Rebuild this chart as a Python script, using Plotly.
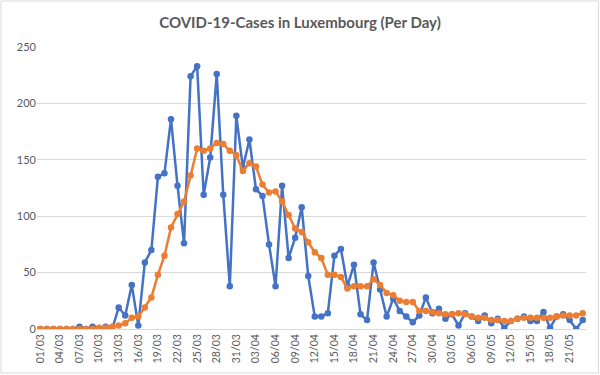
import plotly.graph_objects as go
import pandas as pd

dates = [d.strftime("%d/%m") for d in pd.date_range("2020-03-01", "2020-05-23")]

cases_per_day = [
    0, 0, 0, 0, 0, 0, 2, 0, 2, 0, 2, 0,
    19, 12, 39, 3, 59, 70, 135, 138, 186, 127, 76, 224,
    233, 119, 152, 226, 119, 38, 189, 143, 168, 124, 118, 75,
    38, 127, 63, 81, 108, 47, 11, 11, 14, 65, 71, 38,
    57, 13, 8, 59, 35, 11, 27, 16, 11, 6, 12, 28,
    14, 18, 9, 13, 3, 14, 11, 7, 12, 5, 9, 1,
    7, 9, 11, 7, 7, 15, 1, 11, 13, 8, 0, 8,
]

moving_avg = [
    0, 0, 0, 0, 0, 0, 0, 0, 0, 1, 1, 2,
    3, 5, 10, 11, 19, 28, 48, 65, 90, 102, 113, 136,
    160, 158, 160, 165, 164, 158, 154, 140, 147, 144, 128, 121,
    122, 113, 101, 89, 86, 77, 68, 63, 48, 48, 46, 36,
    38, 38, 38, 44, 39, 32, 30, 25, 24, 24, 16, 16,
    15, 14, 13, 13, 14, 13, 11, 10, 10, 8, 8, 7,
    7, 9, 10, 10, 10, 10, 10, 11, 12, 12, 12, 14,
]

tick_labels = dates[::3]
y_ticks = [0, 50, 100, 150, 200, 250]

fig = go.Figure()
fig.add_trace(go.Scatter(
    x=dates, y=cases_per_day, mode="lines+markers",
    line=dict(color="#4472C4", width=2.5),
    marker=dict(color="#4472C4", size=6.5),
    showlegend=False,
))
fig.add_trace(go.Scatter(
    x=dates, y=moving_avg, mode="lines+markers",
    line=dict(color="#ED7D31", width=2.5),
    marker=dict(color="#ED7D31", size=6.5),
    showlegend=False,
))

fig.update_layout(
    width=600, height=375,
    margin=dict(l=37, r=14, t=47, b=46),
    paper_bgcolor="white", plot_bgcolor="white",
    font=dict(family="Lato, Open Sans, sans-serif", color="#595959"),
    title=dict(
        text="<b>COVID-19-Cases in Luxembourg (Per Day)</b>",
        x=0.5, xanchor="center", y=0.94, yanchor="middle",
        font=dict(size=15, color="#595959", family="Lato, Open Sans, sans-serif"),
    ),
    xaxis=dict(
        type="category", range=[-0.5, len(dates) - 0.5],
        tickmode="array", tickvals=tick_labels, ticktext=tick_labels,
        tickangle=-90, tickfont=dict(size=10.5, color="#595959"),
        showgrid=False, showline=True, linecolor="#D9D9D9", linewidth=1,
        ticks="", zeroline=False,
    ),
    yaxis=dict(
        range=[0, 250], tickvals=y_ticks,
        tickfont=dict(size=11, color="#595959"),
        showgrid=True, gridcolor="#D9D9D9", gridwidth=1,
        zeroline=False, showline=False, ticks="",
    ),
    shapes=[dict(
        type="rect", xref="paper", yref="paper",
        x0=-36 / 549, x1=561.5 / 549, y0=-44 / 282, y1=328 / 282,
        line=dict(color="#D9D9D9", width=1), fillcolor="rgba(0,0,0,0)",
        layer="below",
    )],
)

fig.write_html(
    "out.html",
    config={"displayModeBar": False},
    post_script="document.body.style.margin='0';document.body.style.overflow='hidden';",
)
